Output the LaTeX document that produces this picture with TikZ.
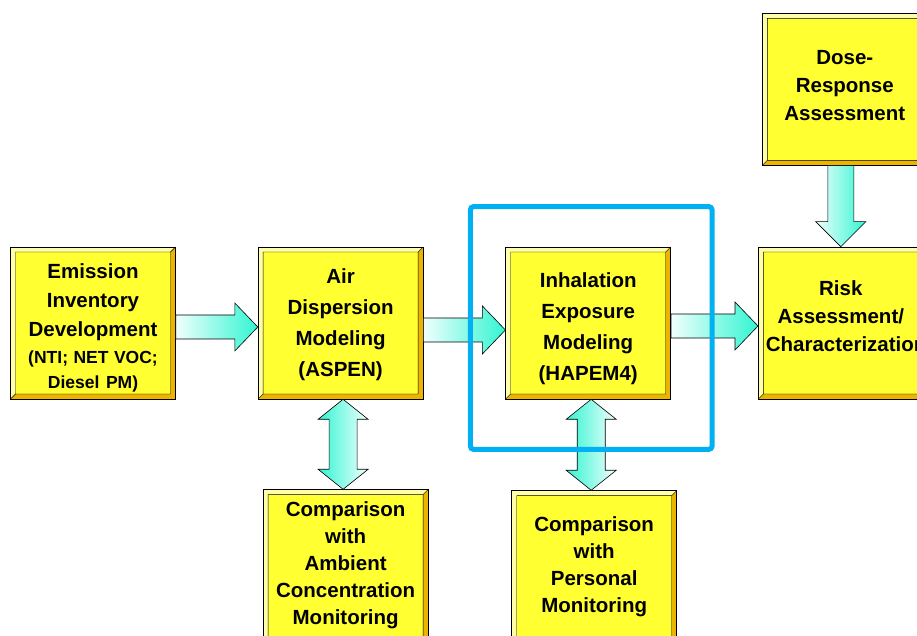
\documentclass[tikz,border=0pt]{standalone}
\usepackage{fontspec}
\setmainfont{Liberation Sans}
\usetikzlibrary{
    positioning,
    calc
}
\definecolor{boxyellow}{RGB}{255,255,50}
\definecolor{bevellight}{RGB}{255,255,170}
\definecolor{beveldark}{RGB}{235,180,0}
\definecolor{flowcyan}{RGB}{50,245,210}
\definecolor{flowlight}{RGB}{240,255,253}
\definecolor{focusblue}{RGB}{0,176,240}
\tikzstyle{module} = [
    rectangle,
    draw=black,
    line width=0.6pt,
    fill=boxyellow,
    minimum width=165pt,
    minimum height=152pt,
    text width=150pt,
    inner sep=0pt,
    align=center,
    font=\bfseries\fontsize{20.5}{31}\selectfont,
    path picture={
        \fill[bevellight] let \p1=(path picture bounding box.south west), \p2=(path picture bounding box.north east) in
            (\x1,\y1) -- (\x1,\y2) -- (\x2,\y2) -- (\x2-5pt,\y2-5pt) -- (\x1+5pt,\y2-5pt) -- (\x1+5pt,\y1+5pt) -- cycle;
        \fill[beveldark] let \p1=(path picture bounding box.south west), \p2=(path picture bounding box.north east) in
            (\x1,\y1) -- (\x2,\y1) -- (\x2,\y2) -- (\x2-5pt,\y2-5pt) -- (\x2-5pt,\y1+5pt) -- (\x1+5pt,\y1+5pt) -- cycle;
        \draw[line width=0.4pt] let \p1=(path picture bounding box.south west), \p2=(path picture bounding box.north east) in
            (\x1+5pt,\y1+5pt) rectangle (\x2-5pt,\y2-5pt)
            (\x1,\y1) -- (\x1+5pt,\y1+5pt)
            (\x2,\y2) -- (\x2-5pt,\y2-5pt);
    }
]
\tikzstyle{flow} = [
    draw=black,
    line width=0.6pt
]
\tikzstyle{focus} = [
    draw=focusblue,
    line width=5pt,
    rounded corners=3pt
]
% block arrows between two anchors
\newcommand{\flowright}[2]{%
    \path[flow, left color=flowlight, right color=flowcyan] let \p1=(#1), \p2=(#2) in
        (\x1,\y1+12pt) -- (\x2-23pt,\y1+12pt) -- (\x2-23pt,\y1+24pt) -- (\x2,\y1)
        -- (\x2-23pt,\y1-24pt) -- (\x2-23pt,\y1-12pt) -- (\x1,\y1-12pt) -- cycle;}
\newcommand{\flowdown}[2]{%
    \path[flow, left color=flowlight, right color=flowcyan] let \p1=(#1), \p2=(#2) in
        (\x2-13pt,\y1) -- (\x2-13pt,\y2+25pt) -- (\x2-25pt,\y2+25pt) -- (\x2,\y2)
        -- (\x2+25pt,\y2+25pt) -- (\x2+13pt,\y2+25pt) -- (\x2+13pt,\y1) -- cycle;}
\newcommand{\flowboth}[2]{%
    \path[flow, left color=flowcyan, right color=flowlight] let \p1=(#1), \p2=(#2), \p3=($(#1)!0.5!(#2)$) in
        (\x3,\y1) -- (\x3+25pt,\y1-20pt) -- (\x3+14pt,\y1-20pt) -- (\x3+14pt,\y2+20pt)
        -- (\x3+25pt,\y2+20pt) -- (\x3,\y2) -- (\x3-25pt,\y2+20pt) -- (\x3-14pt,\y2+20pt)
        -- (\x3-14pt,\y1-20pt) -- (\x3-25pt,\y1-20pt) -- cycle;}

\begin{document}
\begin{tikzpicture}[x=1pt, y=1pt, node distance=82pt]
    \useasboundingbox (0,0) rectangle (917,636);

    % Nodes
    \node[module, font=\bfseries\fontsize{20.5}{29}\selectfont] (emis) at (93,313)
        {\mbox{}\\[-4pt]Emission\\Inventory\\Development\\[3pt]{\spaceskip=0pt\fontsize{17.5}{24}\selectfont (NTI; NET VOC;\\[-4pt]\spaceskip=0pt Diesel PM)}};
    \node[module, right=of emis] (air) {\mbox{}\\[-12pt]Air\\Dispersion\\Modeling\\(ASPEN)};
    \node[module, right=of air] (inhal) {\mbox{}\\[-4pt]Inhalation\\Exposure\\Modeling\\(HAPEM4)};
    \node[module, right=87pt of inhal, font=\bfseries\fontsize{20.5}{28}\selectfont] (risk)
        {Risk\\Assessment/\\Characterization\\[-14pt]\mbox{}};
    \node[module, above=81pt of risk, xshift=4pt, font=\bfseries\fontsize{20.5}{28}\selectfont] (dose)
        {Dose-\\Response\\Assessment\\[-20pt]\mbox{}};
    \node[module, below=90pt of air, xshift=5pt, font=\bfseries\fontsize{20.5}{27}\selectfont] (ambient)
        {Comparison\\with\\Ambient\\Concentration\\Monitoring};
    \node[module, below=91pt of inhal, xshift=6pt, font=\bfseries\fontsize{20.5}{27}\selectfont] (personal)
        {Comparison\\with\\Personal\\Monitoring};

    % Arrows
    \flowright{$(emis.east)+(0,-4)$}{air.west}
    \flowright{$(air.east)+(0,-7)$}{inhal.west}
    \flowright{$(inhal.east)+(0,-3)$}{risk.west}
    \flowdown{dose.south}{risk.north}
    \flowboth{air.south}{ambient.north}
    \flowboth{inhal.south}{personal.north}

    % HAPEM4 frame
    \draw[focus] ($(inhal.north west)+(-35,40)$) rectangle ($(inhal.south east)+(41,-50)$);
\end{tikzpicture}
\end{document}
